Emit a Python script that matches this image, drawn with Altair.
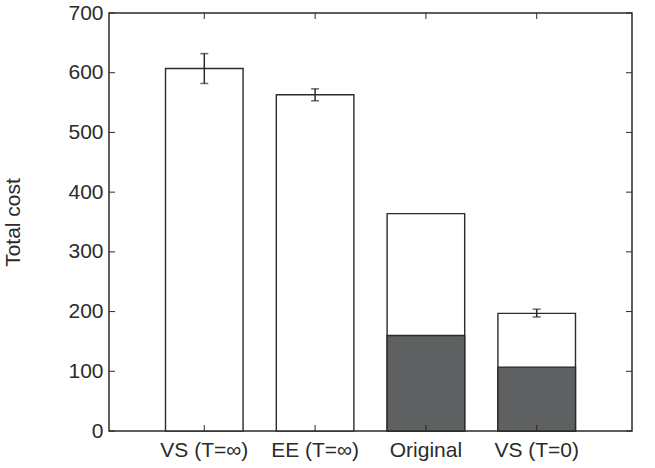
import altair as alt
import pandas as pd

categories = ["VS (T=∞)", "EE (T=∞)", "Original", "VS (T=0)"]
totals = [607, 563, 364, 197]
dark_part = [None, None, 160, 107]
err_lo = [582, 553, None, 191]
err_hi = [632, 573, None, 204]
y_ticks = [0, 100, 200, 300, 400, 500, 600, 700]

W, H = 523, 418
FONT = "Liberation Sans"
INK = "#2b2b2b"

df = pd.DataFrame({"cat": categories, "total": totals, "dark": dark_part,
                   "lo": err_lo, "hi": err_hi})
ticks_df = pd.DataFrame({"v": y_ticks})

xs = alt.Scale(domain=categories, paddingInner=0.3, paddingOuter=0.51)
ys = alt.Scale(domain=[0, 700], nice=False, zero=True)

x_enc = alt.X("cat:N", scale=xs, sort=categories, title=None,
              axis=alt.Axis(labelAngle=0, ticks=False, domain=False,
                            labelFont=FONT, labelFontSize=21, labelColor=INK,
                            labelPadding=8))
y_axis = alt.Axis(values=y_ticks, ticks=False, domain=False, grid=False,
                  labelFont=FONT, labelFontSize=21, labelColor=INK, labelPadding=6,
                  titleFont=FONT, titleFontSize=21, titleFontWeight="normal",
                  titleColor=INK, titlePadding=44)

base = alt.Chart(df)

total_bars = base.mark_bar(fill="white", stroke=INK, strokeWidth=1.4).encode(
    x=x_enc,
    y=alt.Y("total:Q", scale=ys, title="Total cost", axis=y_axis),
)
dark_bars = base.transform_filter("isValid(datum.dark)").mark_bar(
    fill="#5e6061", stroke=INK, strokeWidth=1.4).encode(
    x=alt.X("cat:N", scale=xs, sort=categories),
    y=alt.Y("dark:Q", scale=ys),
)
err = base.transform_filter("isValid(datum.lo)")
err_rule = err.mark_rule(color=INK, strokeWidth=1.5).encode(
    x=alt.X("cat:N", scale=xs, sort=categories),
    y=alt.Y("lo:Q", scale=ys), y2="hi:Q")
cap_lo = err.mark_tick(color=INK, size=8, thickness=1.5).encode(
    x=alt.X("cat:N", scale=xs, sort=categories), y=alt.Y("lo:Q", scale=ys))
cap_hi = err.mark_tick(color=INK, size=8, thickness=1.5).encode(
    x=alt.X("cat:N", scale=xs, sort=categories), y=alt.Y("hi:Q", scale=ys))

tk = alt.Chart(ticks_df)
ytick_l = tk.mark_rule(color=INK, strokeWidth=1).encode(
    y=alt.Y("v:Q", scale=ys), x=alt.value(0), x2=alt.value(6))
ytick_r = tk.mark_rule(color=INK, strokeWidth=1).encode(
    y=alt.Y("v:Q", scale=ys), x=alt.value(W - 6), x2=alt.value(W))
xtick_b = base.mark_rule(color=INK, strokeWidth=1).encode(
    x=alt.X("cat:N", scale=xs, sort=categories), y=alt.value(H - 6), y2=alt.value(H))
xtick_t = base.mark_rule(color=INK, strokeWidth=1).encode(
    x=alt.X("cat:N", scale=xs, sort=categories), y=alt.value(0), y2=alt.value(6))

chart = alt.layer(total_bars, dark_bars, err_rule, cap_lo, cap_hi,
                  ytick_l, ytick_r, xtick_b, xtick_t).properties(
    width=W, height=H,
    autosize=alt.AutoSizeParams(type="none"),
    padding={"left": 109, "top": 13, "right": 23, "bottom": 37},
    background="white",
).configure_view(stroke=INK, strokeWidth=1.5)

chart.save("out.html", embed_options={"renderer": "svg", "actions": False})
